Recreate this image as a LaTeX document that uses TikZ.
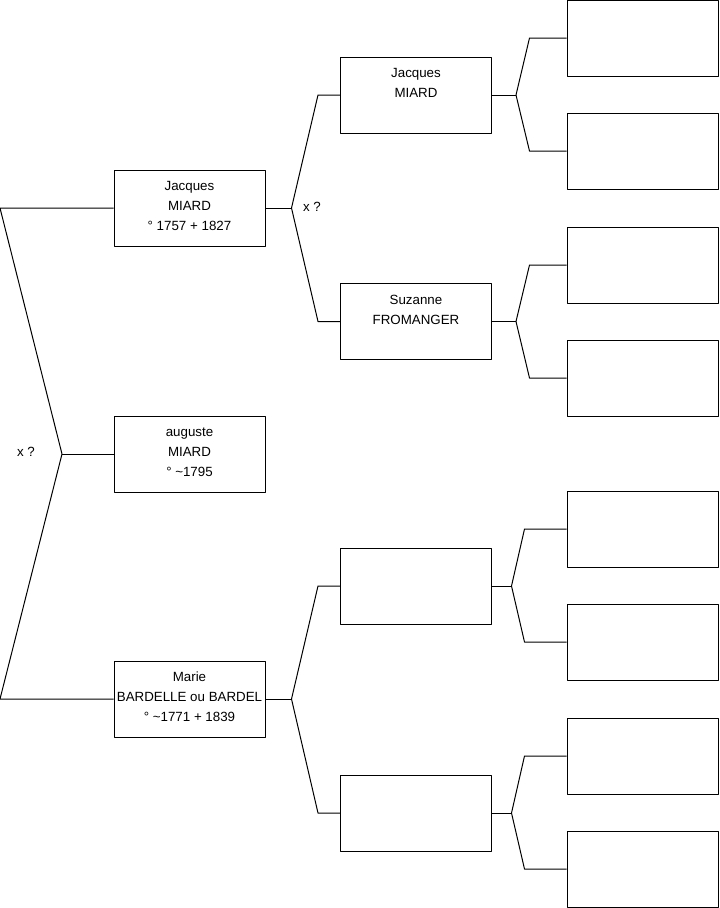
\documentclass[tikz,border=0pt]{standalone}
\usepackage{fontspec}
\setmainfont{Liberation Sans}
\usetikzlibrary{calc}
\tikzset{
  every picture/.style={line join=round, line width=0.75pt},
  personbox/.style={draw, rectangle, inner sep=0pt, minimum width=113.25pt, minimum height=57pt},
  mariage/.style={font=\fontsize{10}{12}\selectfont, inner sep=0pt},
}
\newcommand{\famtext}[1]{\parbox[c][57pt][t]{113pt}{\fontsize{10}{15}\selectfont\centering\rule{0pt}{15.5pt}#1}}

\begin{document}
\begin{tikzpicture}[x=0.75pt,y=-0.75pt]
\useasboundingbox (0,0) rectangle (719,908);
% generation 1
\node[personbox] (pere) at (189.5,208) {\famtext{Jacques\\MIARD\\° 1757 + 1827}};
\node[personbox] (auguste) at (189.5,454) {\famtext{auguste\\MIARD\\° \textasciitilde1795}};
\node[personbox] (mere) at (189.5,699) {\famtext{Marie\\BARDELLE ou BARDEL\\° \textasciitilde1771 + 1839}};
% generation 2
\node[personbox] (gpp) at (416,95) {\famtext{Jacques\\MIARD}};
\node[personbox] (gmp) at (416,321.5) {\famtext{Suzanne\\FROMANGER}};
\node[personbox] (gpm) at (416,586) {};
\node[personbox] (gmm) at (416,813) {};
% generation 3
\node[personbox] (b1) at (642.5,38) {};
\node[personbox] (b2) at (642.5,151) {};
\node[personbox] (b3) at (642.5,265) {};
\node[personbox] (b4) at (642.5,378) {};
\node[personbox] (b5) at (642.5,529) {};
\node[personbox] (b6) at (642.5,642) {};
\node[personbox] (b7) at (642.5,756) {};
\node[personbox] (b8) at (642.5,869) {};

% parents of auguste
\coordinate (haut) at (0,208);
\coordinate (bas) at (0,699);
\coordinate (k0) at (62,454);
\draw (pere.west) -- (haut) -- (k0) -- (bas) -- (mere.west);
\draw (k0) -- (auguste.west);
\node[mariage] (x0) at (26,452) {x ?};

% grands-parents
\coordinate (k1) at ($(pere.east)+(26,0)$);
\draw (pere.east) -- (k1);
\draw (k1) -- ($(gpp.west)+(-22,0)$) -- (gpp.west);
\draw (k1) -- ($(gmp.west)+(-22,0)$) -- (gmp.west);
\node[mariage] (x1) at (312,207) {x ?};
\coordinate (k2) at ($(mere.east)+(26,0)$);
\draw (mere.east) -- (k2);
\draw (k2) -- ($(gpm.west)+(-22,0)$) -- (gpm.west);
\draw (k2) -- ($(gmm.west)+(-22,0)$) -- (gmm.west);

% arriere-grands-parents
\coordinate (k3) at ($(gpp.east)+(24,0)$);
\draw (gpp.east) -- (k3);
\draw (k3) -- ($(b1.west)+(-37,0)$) -- (b1.west);
\draw (k3) -- ($(b2.west)+(-37,0)$) -- (b2.west);
\coordinate (k4) at ($(gmp.east)+(24,0)$);
\draw (gmp.east) -- (k4);
\draw (k4) -- ($(b3.west)+(-37,0)$) -- (b3.west);
\draw (k4) -- ($(b4.west)+(-37,0)$) -- (b4.west);
\coordinate (k5) at ($(gpm.east)+(19.5,0)$);
\draw (gpm.east) -- (k5);
\draw (k5) -- ($(b5.west)+(-42,0)$) -- (b5.west);
\draw (k5) -- ($(b6.west)+(-42,0)$) -- (b6.west);
\coordinate (k6) at ($(gmm.east)+(19.5,0)$);
\draw (gmm.east) -- (k6);
\draw (k6) -- ($(b7.west)+(-42,0)$) -- (b7.west);
\draw (k6) -- ($(b8.west)+(-42,0)$) -- (b8.west);
\end{tikzpicture}
\end{document}
